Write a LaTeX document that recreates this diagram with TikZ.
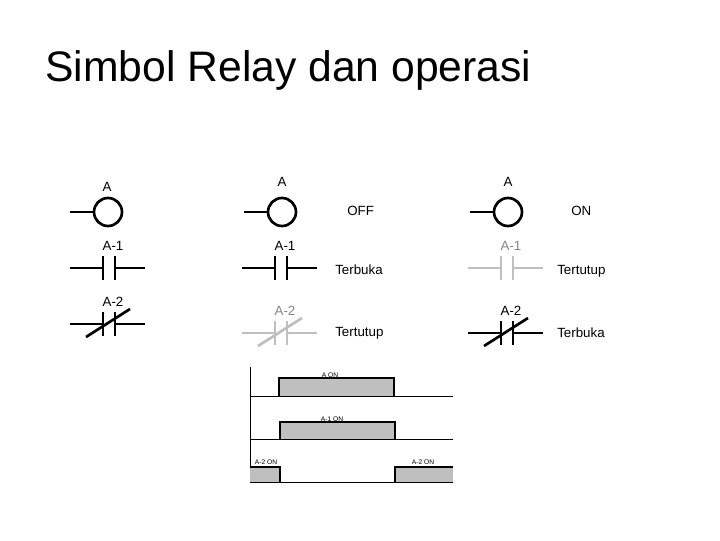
\documentclass[tikz,border=0pt]{standalone}
\usepackage{fontspec}
\setmainfont{Liberation Sans}
\definecolor{offgrey}{rgb}{0.75,0.75,0.75}
\definecolor{bargrey}{rgb}{0.75,0.75,0.75}
\tikzset{
  wire/.style={line width=2pt},
  lbl/.style={inner sep=0.75pt,font=\fontsize{10}{12}\selectfont},
  tiny/.style={inner sep=0.75pt,font=\fontsize{5}{6}\selectfont},
}
\begin{document}
\begin{tikzpicture}[x=0.75pt,y=0.75pt,yscale=-1,xscale=1]
\useasboundingbox (0,0) rectangle (720,540);

% Title
\node (title) [anchor=west,inner sep=0pt,font=\fontsize{32}{38}\selectfont] at (45,70) {Simbol Relay dan operasi};

% Coils
\foreach \cx/\col in {108/black,282/black,508/black}{
  \draw [wire,color=\col] (\cx-38,212) -- (\cx-14,212) ;
  \draw [wire,color=\col] (\cx,212) circle (14) ;
}
\node (aone) [lbl] at (107,187) {A};
\node (atwo) [lbl] at (282,182) {A};
\node (athree) [lbl] at (508,182) {A};
\node (off) [lbl,anchor=west] at (346,211) {OFF};
\node (on) [lbl,anchor=west] at (570,211) {ON};

% Normally open contacts A-1
\foreach \px/\col in {103/black,275/black,501/offgrey}{
  \draw [wire,color=\col] (\px-33,268) -- (\px,268) (\px,256) -- (\px,280) ;
  \draw [wire,color=\col] (\px+12,256) -- (\px+12,280) (\px+12,268) -- (\px+42,268) ;
}
\node (ano1) [lbl] at (113,246) {A-1};
\node (ano2) [lbl] at (285,246) {A-1};
\node (ano3) [lbl,text=offgrey!70!black] at (511,246) {A-1};
\node (terbuka1) [lbl,anchor=west] at (334,270) {Terbuka};
\node (tertutup1) [lbl,anchor=west] at (556,271) {Tertutup};

% Normally closed contacts A-2
\foreach \px/\py/\col in {103/324/black,275/333/offgrey,501/333/black}{
  \draw [wire,color=\col] (\px-33,\py) -- (\px,\py) (\px,\py-12) -- (\px,\py+12) ;
  \draw [wire,color=\col] (\px+12,\py-12) -- (\px+12,\py+12) (\px+12,\py) -- (\px+42,\py) ;
  \draw [wire,color=\col] (\px-17,\py+13) -- (\px+27,\py-15) ;
}
\node (anc1) [lbl] at (113,302) {A-2};
\node (anc2) [lbl,text=offgrey!70!black] at (285,311) {A-2};
\node (anc3) [lbl] at (511,311) {A-2};
\node (tertutup2) [lbl,anchor=west] at (334,333) {Tertutup};
\node (terbuka2) [lbl,anchor=west] at (556,333) {Terbuka};

% Timing chart
\draw [line width=0.6pt] (250,367) -- (250,482) ;
\foreach \y in {396,439,482}{
  \draw [line width=0.6pt] (250,\y) -- (453,\y) ;
}
\draw [fill=bargrey,draw=none] (279,378) rectangle (394,396) ;
\draw [line width=0.8pt] (279,396) -- (279,378) -- (394,378) -- (394,396) ;
\draw [fill=bargrey,draw=none] (280,422) rectangle (395,439) ;
\draw [line width=0.8pt] (280,439) -- (280,422) -- (395,422) -- (395,439) ;
\draw [fill=bargrey,draw=none] (250,467) rectangle (280,482) ;
\draw [line width=0.8pt] (250,467) -- (280,467) -- (280,482) ;
\draw [fill=bargrey,draw=none] (395,467) rectangle (453,482) ;
\draw [line width=0.8pt] (395,482) -- (395,467) -- (453,467) ;
\node (aon) [tiny] at (330,375) {A ON};
\node (a1on) [tiny] at (332,419) {A-1 ON};
\node (a2onl) [tiny] at (266,462) {A-2 ON};
\node (a2onr) [tiny] at (423,462) {A-2 ON};
\end{tikzpicture}
\end{document}
